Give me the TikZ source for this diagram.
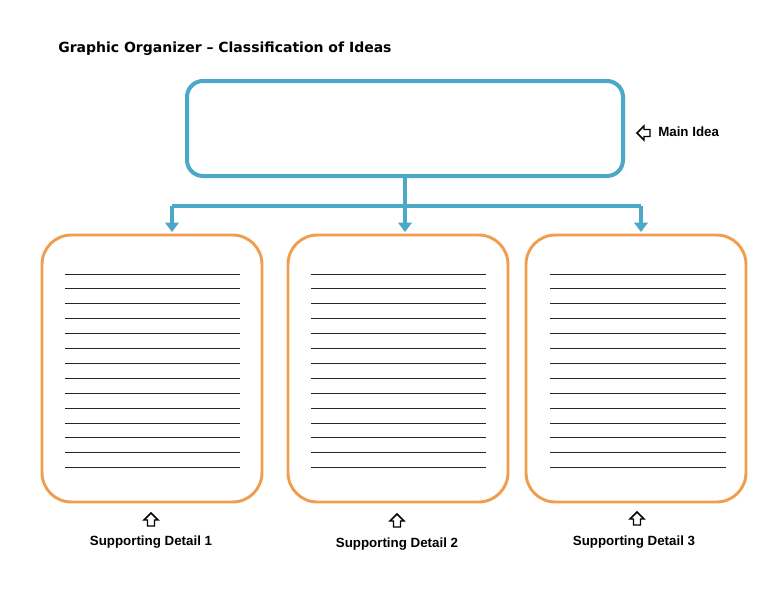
\documentclass[tikz,border=0pt]{standalone}
\usepackage{fontspec}
\setmainfont{Liberation Sans}
\newfontfamily\titlefont{DejaVu Sans}
\definecolor{bluebox}{RGB}{75,168,198}
\definecolor{orangebox}{RGB}{240,158,78}
\tikzset{
  x=0.75pt,y=-0.75pt,
  mainbox/.style={draw=bluebox,line width=3pt,rounded corners=12pt},
  detailbox/.style={draw=orangebox,line width=2.2pt,rounded corners=22pt},
  conn/.style={draw=bluebox,line width=2.8pt},
  connarrow/.style={conn,-{Triangle[length=7pt,width=10pt]}},
  ruled/.style={line width=0.7pt,black!85},
  lbl/.style={font=\bfseries\fontsize{10}{12}\selectfont,inner sep=0pt},
  hollow/.pic={\draw[line width=1.1pt,line join=miter] (0,-7)--(-7,0)--(-3.5,0)--(-3.5,6)--(3.5,6)--(3.5,0)--(7,0)--cycle;}
}
\usetikzlibrary{arrows.meta}
\begin{document}
\begin{tikzpicture}
\useasboundingbox (0,0) rectangle (768,594);
\node[anchor=west,inner sep=0pt,font=\titlefont\bfseries\fontsize{10.5}{12}\selectfont] (title) at (58,49) {Graphic Organizer – Classification of Ideas};
\draw[mainbox] (187,81) rectangle (623,176);
\coordinate (mb) at (405,176);
\coordinate (j) at (405,206);
\coordinate (jl) at (172,206);
\coordinate (jr) at (641,206);
\coordinate (t1) at (172,232);
\coordinate (t2) at (405,232);
\coordinate (t3) at (641,232);
\draw[conn] (mb)--(j);
\draw[conn] (jl)--(jr);
\draw[connarrow] (jl)--(t1);
\draw[connarrow] (j)--(t2);
\draw[connarrow] (jr)--(t3);
\foreach \xa/\xb/\la/\lb in {42/262/65/240, 288/508/311/486, 526/746/550/726}{
  \draw[detailbox] (\xa,235) rectangle (\xb,502);
  \foreach \k in {0,...,13}{
    \draw[ruled] (\la,274+\k*14.9) -- (\lb,274+\k*14.9);
  }
}
\pic[rotate=90] at (644,133) {hollow};
\node[lbl,anchor=west] (mi) at (658,132) {Main Idea};
\pic at (151,520) {hollow};
\pic at (397,521) {hollow};
\pic at (637,519) {hollow};
\node[lbl] (s1) at (151,542) {Supporting Detail 1};
\node[lbl] (s2) at (397,544) {Supporting Detail 2};
\node[lbl] (s3) at (634,542) {Supporting Detail 3};
\end{tikzpicture}
\end{document}
